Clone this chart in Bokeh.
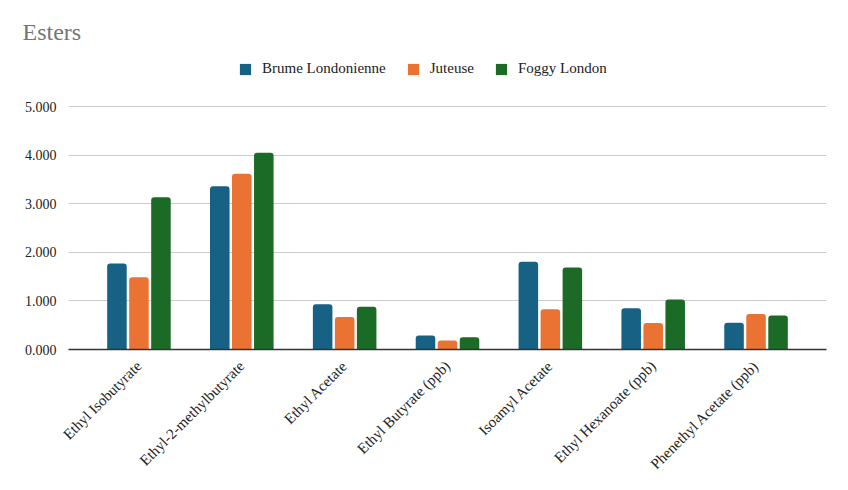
import math
from bokeh.plotting import figure
from bokeh.models import FactorRange, Range1d, NumeralTickFormatter, Legend, LegendItem, ColumnDataSource
from bokeh.transform import dodge
from bokeh.embed import file_html
from bokeh.resources import INLINE

categories = ["Ethyl Isobutyrate", "Ethyl-2-methylbutyrate", "Ethyl Acetate", "Ethyl Butyrate (ppb)",
              "Isoamyl Acetate", "Ethyl Hexanoate (ppb)", "Phenethyl Acetate (ppb)"]
brume = [1.772, 3.364, 0.935, 0.290, 1.810, 0.850, 0.552]
juteuse = [1.487, 3.620, 0.670, 0.187, 0.830, 0.546, 0.733]
foggy = [3.136, 4.056, 0.880, 0.255, 1.690, 1.030, 0.700]
series_names = ["Brume Londonienne", "Juteuse", "Foggy London"]
colors = ["#176184", "#EA7333", "#1B6B27"]
y_ticks = [0, 1, 2, 3, 4, 5]

FONT = "Liberation Serif"

src = ColumnDataSource(dict(cat=categories, brume=brume, juteuse=juteuse, foggy=foggy))

p = figure(width=832, height=481,
           x_range=FactorRange(*categories, range_padding=0.185, range_padding_units="absolute"),
           y_range=Range1d(0, 6.10), output_backend="svg", toolbar_location=None,
           min_border_left=68, min_border_right=6, min_border_bottom=132, min_border_top=53)

p.title.text = "Esters"
p.title.text_font = FONT
p.title.text_font_size = "24px"
p.title.text_font_style = "normal"
p.title.text_color = "#757575"
p.title.offset = -46
p.title.standoff = 18

renderers = []
for off, col, c in zip([-0.214, 0, 0.214], ["brume", "juteuse", "foggy"], colors):
    r = p.vbar(x=dodge("cat", off, range=p.x_range), top=col, width=0.19, source=src,
               fill_color=c, line_color=None, border_radius=[3, 3, 0, 0])
    renderers.append(r)

legend = Legend(items=[LegendItem(label=n, renderers=[r]) for n, r in zip(series_names, renderers)],
                orientation="horizontal", location=(170, 272),
                glyph_width=14, glyph_height=14, label_height=14, label_standoff=10, spacing=20,
                label_text_font=FONT, label_text_font_size="15px", label_text_color="#222222",
                border_line_color=None, background_fill_alpha=0, padding=0, margin=0)
p.add_layout(legend, "center")

p.outline_line_color = None
p.xgrid.grid_line_color = None
p.ygrid.grid_line_color = "#cccccc"
p.ygrid.grid_line_width = 1
p.yaxis.ticker = y_ticks
p.yaxis.formatter = NumeralTickFormatter(format="0.000")
p.yaxis.axis_line_color = None
p.yaxis.major_tick_line_color = None
p.yaxis.minor_tick_line_color = None
p.yaxis.major_label_text_font = FONT
p.yaxis.major_label_text_font_size = "14px"
p.yaxis.major_label_text_color = "#222222"
p.yaxis.major_label_standoff = 6

p.xaxis.axis_line_color = "#333333"
p.xaxis.axis_line_width = 1.5
p.xaxis.major_tick_line_color = None
p.xaxis.minor_tick_line_color = None
p.xaxis.major_label_orientation = math.pi / 4
p.xaxis.major_label_text_font = FONT
p.xaxis.major_label_text_font_size = "15px"
p.xaxis.major_label_text_color = "#222222"
p.xaxis.major_label_standoff = 8

open("out.html", "w").write(file_html(p, INLINE))
